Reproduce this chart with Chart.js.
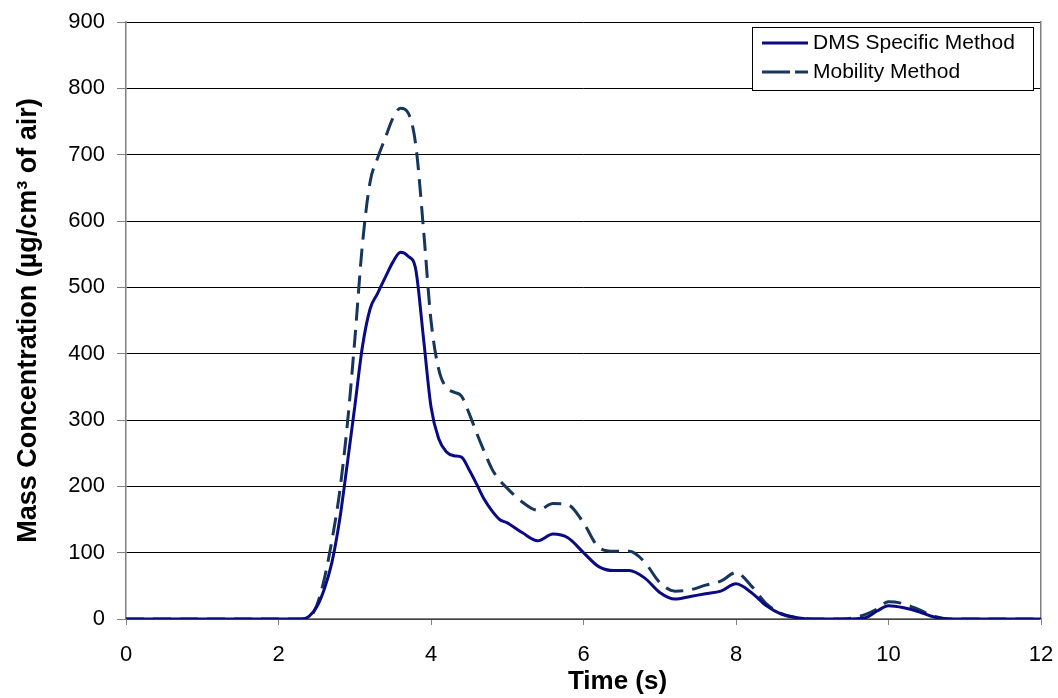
<!DOCTYPE html>
<html>
<head>
<meta charset="utf-8">
<title>Mass Concentration vs Time</title>
<script src="https://cdn.jsdelivr.net/npm/chart.js@4.4.0/dist/chart.umd.min.js"></script>
<style>
  html, body { margin: 0; padding: 0; background: #fff; }
</style>
</head>
<body>

<canvas id="myChart" width="1058" height="698"></canvas>

<script>
    // Time axis (s), shared by both series
    const times = [0, 1, 2, 2.3, 2.4, 2.5, 2.6, 2.7, 2.8, 2.9, 3.0, 3.1, 3.2, 3.3, 3.4, 3.5, 3.6, 3.7, 3.8, 3.9,
                   4.0, 4.1, 4.2, 4.3, 4.4, 4.5, 4.6, 4.7, 4.8, 4.9, 5.0, 5.2, 5.4, 5.6, 5.8, 6.0, 6.2, 6.4, 6.6, 6.8,
                   7.0, 7.2, 7.4, 7.6, 7.8, 8.0, 8.2, 8.4, 8.6, 8.8, 9.0, 9.4, 9.7, 9.85, 10.0, 10.2, 10.4, 10.6, 10.8, 11, 12];

    // Mass concentration (ug/cm3 of air)
    const dmsSpecific = [0, 0, 0, 0, 4, 18, 45, 85, 148, 232, 320, 410, 467, 491, 515, 538, 553, 547, 527, 425,
                         320, 272, 252, 246, 244, 225, 203, 180, 163, 150, 145, 130, 118, 128, 122, 100, 79, 73, 73, 62,
                         40, 30, 34, 38, 42, 53, 40, 20, 7, 2, 0, 0, 2, 12, 20, 17, 11, 3, 0, 0, 0];

    const mobility = [0, 0, 0, 0, 2, 20, 60, 118, 190, 290, 420, 564, 658, 695, 725, 755, 770, 763, 715, 590,
                      450, 377, 349, 342, 336, 310, 280, 252, 226, 209, 197, 176, 164, 174, 172, 145, 108, 102, 102, 86,
                      55, 42, 44, 51, 57, 70, 50, 23, 8, 2, 0, 0, 7, 15, 26, 23, 14, 4, 0, 0, 0];

    const seriesNames = ["DMS Specific Method", "Mobility Method"];
    const seriesColors = ["#0a0a82", "#17365d"];
    const dashPattern = [18, 9];
    const xTitle = "Time (s)";
    const yTitle = "Mass Concentration (µg/cm³ of air)";
    const FONT = "'Liberation Sans', Arial, sans-serif";

    function toPoints(xs, ys) {
        return xs.map(function(x, i) { return { x: x, y: ys[i] }; });
    }

    // Boxed legend inside the plot area (top right) and the x axis title,
    // which the original sets a bit right of the plot centre
    const extras = {
        id: "extras",
        afterDatasetsDraw(chart) {
            const ctx = chart.ctx;
            const a = chart.chartArea;
            const w = 281, h = 63;
            const x = a.right - 8 - w, y = a.top + 5;
            ctx.save();
            ctx.fillStyle = "#fff";
            ctx.fillRect(x, y, w, h);
            ctx.strokeStyle = "#000";
            ctx.lineWidth = 1;
            ctx.strokeRect(x + 0.5, y + 0.5, w, h);
            ctx.font = "21px " + FONT;
            ctx.textBaseline = "middle";
            seriesNames.forEach(function(name, i) {
                const ly = y + 16 + i * 29;
                ctx.strokeStyle = seriesColors[i];
                ctx.lineWidth = 3;
                ctx.setLineDash(i === 1 ? [28, 5] : []);
                ctx.beginPath();
                ctx.moveTo(x + 10, ly);
                ctx.lineTo(x + 56, ly);
                ctx.stroke();
                ctx.setLineDash([]);
                ctx.fillStyle = "#000";
                ctx.fillText(name, x + 61, ly);
            });
            ctx.font = "bold 26px " + FONT;
            ctx.textAlign = "center";
            ctx.textBaseline = "alphabetic";
            ctx.fillText(xTitle, (a.left + a.right) / 2 + 34, 689);
            ctx.restore();
        }
    };

    new Chart("myChart", {
        type: "line",
        data: {
            datasets: [
                {
                    label: seriesNames[0],
                    data: toPoints(times, dmsSpecific),
                    borderColor: seriesColors[0],
                    borderWidth: 3,
                    pointRadius: 0,
                    cubicInterpolationMode: "monotone",
                    fill: false
                },
                {
                    label: seriesNames[1],
                    data: toPoints(times, mobility),
                    borderColor: seriesColors[1],
                    borderWidth: 3,
                    borderDash: dashPattern,
                    pointRadius: 0,
                    cubicInterpolationMode: "monotone",
                    fill: false
                }
            ]
        },
        options: {
            responsive: false,
            animation: false,
            devicePixelRatio: 1,
            layout: { padding: { top: 22, left: 0, right: 0, bottom: 0 } },
            plugins: {
                legend: { display: false },
                tooltip: { enabled: false }
            },
            scales: {
                x: {
                    type: "linear",
                    min: 0,
                    max: 12,
                    afterFit: function(s) { s.height = 79; s.paddingLeft = 0; s.paddingRight = 0; },
                    ticks: {
                        stepSize: 2,
                        padding: 17,
                        color: "#000",
                        font: { family: FONT, size: 22 }
                    },
                    grid: { drawOnChartArea: false, drawTicks: true, tickLength: 6, tickColor: "#808080" },
                    border: { color: "#808080", width: 1.5 }
                },
                y: {
                    min: 0,
                    max: 900,
                    afterFit: function(s) { s.width = 126; s.paddingTop = 0; s.paddingBottom = 0; },
                    ticks: {
                        stepSize: 100,
                        padding: 12,
                        color: "#000",
                        font: { family: FONT, size: 22 }
                    },
                    grid: { color: "#000", lineWidth: 1, tickLength: 9, tickColor: "#808080" },
                    border: { color: "#808080", width: 1.5 },
                    title: {
                        display: true,
                        text: yTitle,
                        color: "#000",
                        padding: { top: 12, bottom: 0 },
                        font: { family: FONT, size: 27, weight: "bold" }
                    }
                },
                yRight: {
                    position: "right",
                    min: 0,
                    max: 900,
                    afterFit: function(s) { s.width = 17; s.paddingTop = 0; s.paddingBottom = 0; },
                    ticks: { display: false },
                    grid: { display: false },
                    border: { color: "#808080", width: 1.5 }
                }
            }
        },
        plugins: [extras]
    });
</script>

</body>
</html>
